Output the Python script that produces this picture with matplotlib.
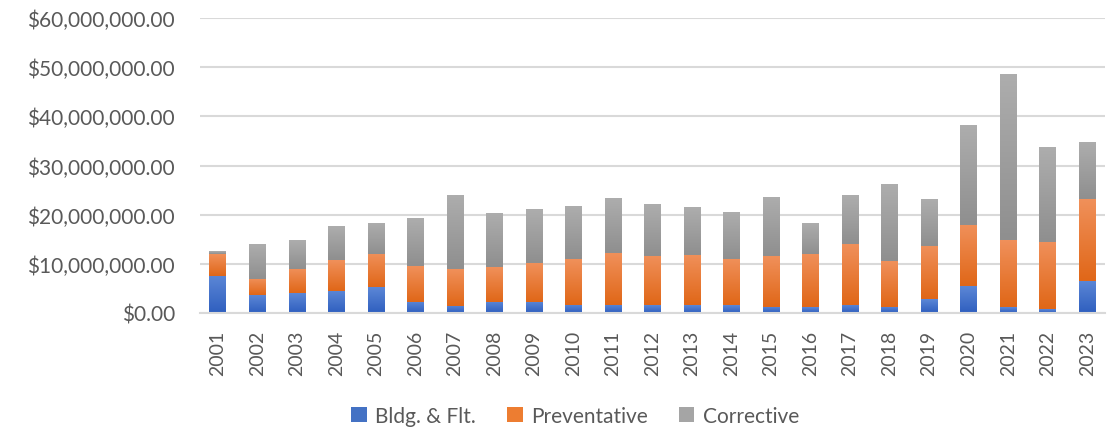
import matplotlib
matplotlib.use("Agg")
import matplotlib.pyplot as plt
from matplotlib.ticker import FuncFormatter
from matplotlib.colors import LinearSegmentedColormap
import numpy as np

years = [str(y) for y in range(2001, 2024)]
bldg = [7.6, 3.6, 4.0, 4.5, 5.2, 2.3, 1.5, 2.3, 2.3, 1.7, 1.7, 1.6,
        1.6, 1.6, 1.3, 1.2, 1.7, 1.3, 2.8, 5.4, 1.2, 0.8, 6.6]
prev_top = [12.0, 6.9, 8.9, 10.8, 12.0, 9.6, 8.9, 9.4, 10.2, 11.0, 12.2, 11.6,
            11.8, 11.0, 11.6, 12.1, 14.1, 10.5, 13.7, 17.9, 14.8, 14.5, 23.1]
totals = [12.6, 14.0, 14.6, 17.6, 18.2, 19.3, 23.9, 20.2, 21.1, 21.7, 23.3, 22.1,
          21.5, 20.5, 23.5, 18.3, 23.9, 26.0, 23.1, 38.1, 48.4, 33.8, 34.6]

bldg_v = np.array(bldg) * 1e6
prev_v = (np.array(prev_top) - np.array(bldg)) * 1e6
corr_v = (np.array(totals) - np.array(prev_top)) * 1e6

plt.rcParams['font.family'] = ['Lato', 'DejaVu Sans']
fig = plt.figure(figsize=(11.17, 4.31), dpi=100)
ax = fig.add_axes([200/1117, (431-314)/431, (1105-200)/1117, (314-19)/431])

x = np.arange(len(years))
w = 0.42
series = [
    (bldg_v, np.zeros_like(bldg_v), '#4472C4', ('#2f5fbf', '#5c87d6'), 'Bldg. & Flt.'),
    (prev_v, bldg_v, '#ED7D31', ('#e06718', '#f0905a'), 'Preventative'),
    (corr_v, bldg_v + prev_v, '#A5A5A5', ('#8f8f8f', '#adadad'), 'Corrective'),
]
grad = np.linspace(0, 1, 64).reshape(-1, 1)
for vals, bot, col, (c0, c1), lab in series:
    bars = ax.bar(x, vals, w, bottom=bot, color=col, label=lab, zorder=3)
    cmap = LinearSegmentedColormap.from_list('g', [c0, c1])
    for b in bars:
        bx, by = b.get_x(), b.get_y()
        bw, bh = b.get_width(), b.get_height()
        if bh <= 0:
            continue
        ax.imshow(grad, cmap=cmap, extent=(bx, bx + bw, by, by + bh),
                  origin='lower', aspect='auto', zorder=4, interpolation='bilinear')

ax.set_ylim(0, 60e6)
ax.set_yticks(np.arange(0, 60e6 + 1, 10e6))
ax.yaxis.set_major_formatter(FuncFormatter(lambda v, p: f"${v:,.2f}"))
ax.set_xlim(-0.45, len(years) - 0.55)
ax.set_xticks(x)
ax.set_xticklabels(years, rotation=90)
ax.grid(axis='y', color='#d9d9d9', linewidth=1.5, zorder=0)
for s in ['top', 'right', 'left']:
    ax.spines[s].set_visible(False)
ax.spines['bottom'].set_color('#d9d9d9')
ax.spines['bottom'].set_linewidth(1.5)
ax.spines['bottom'].set_zorder(5)
ax.tick_params(axis='both', length=0, colors='#595959', labelsize=14)
ax.tick_params(axis='y', pad=18, labelsize=15)
ax.tick_params(axis='x', pad=12)

leg = fig.legend(loc='center', bbox_to_anchor=(575/1117, 1 - 417/431), ncol=3,
                 frameon=False, fontsize=15, handlelength=0.75, handleheight=0.75,
                 columnspacing=1.5, handletextpad=0.4)
for t in leg.get_texts():
    t.set_color('#595959')

fig.savefig('out.png', dpi=100)
